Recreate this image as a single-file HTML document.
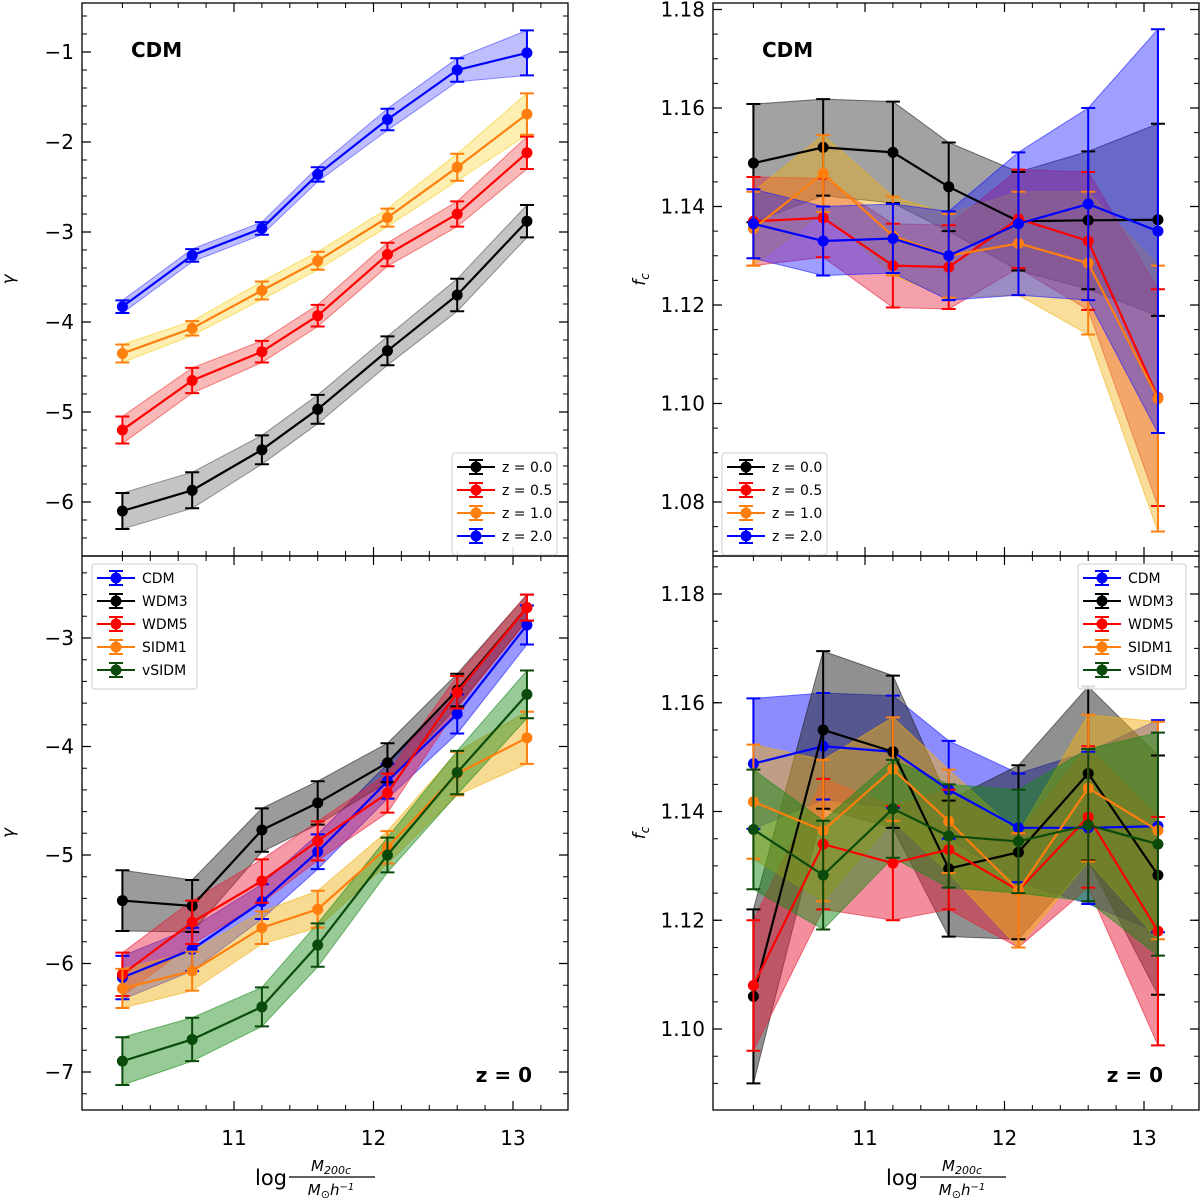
<!DOCTYPE html><html><head><meta charset="utf-8"><style>body{margin:0;background:#fff}svg text{font-family:"DejaVu Sans","Liberation Sans",sans-serif}</style></head><body>
<svg id="s" width="1200" height="1198" xmlns="http://www.w3.org/2000/svg"></svg>
<script>
const S=document.getElementById('s');let h='';
const X=[10.2,10.7,11.2,11.6,12.1,12.6,13.1];
function px(m,x0){return x0+152+(m-11)*139.5;}
const C={k:'#000',r:'#f00',o:'#ff7f0e',b:'#00f',g:'#0a4a0a'};
const F1={k:'#555',r:'#e33',o:'#f5d020',b:'#44f',g:'#2a2'};
const F2={k:'#222',r:'#e8203a',o:'#f0b010',b:'#1a1aff',g:'#1a8a1a'};
function panel(x0,y0,y1,yf,series,ticks,minor,ylab,alpha,F){
 const x1=x0+486;
 h+=`<rect x="${x0}" y="${y0}" width="486" height="${y1-y0}" fill="none" stroke="#000" stroke-width="1.3"/>`;
 h+=`<clipPath id="c${x0}${y0}"><rect x="${x0}" y="${y0}" width="486" height="${y1-y0}"/></clipPath><g clip-path="url(#c${x0}${y0})">`;
 for(const s of series){const [c,v,e]=s;
  let up=X.map((m,i)=>px(m,x0)+','+yf(v[i]+e[i])),dn=X.map((m,i)=>px(m,x0)+','+yf(v[i]-e[i])).reverse();
  h+=`<polygon points="${up.concat(dn).join(' ')}" fill="${F[c]}" fill-opacity="${alpha}" stroke="${F[c]}" stroke-opacity="0.6"/>`;}
 for(const s of series){const [c,v,e]=s;
  h+=`<polyline points="${X.map((m,i)=>px(m,x0)+','+yf(v[i])).join(' ')}" fill="none" stroke="${C[c]}" stroke-width="2.2"/>`;
  X.forEach((m,i)=>{const x=px(m,x0),a=yf(v[i]+e[i]),b=yf(v[i]-e[i]);
   h+=`<path d="M${x},${a}V${b}M${x-7},${a}h14M${x-7},${b}h14" stroke="${C[c]}" stroke-width="2"/><circle cx="${x}" cy="${yf(v[i])}" r="5.5" fill="${C[c]}"/>`;});}
 h+='</g>';
 [11,12,13].forEach(m=>{const x=px(m,x0);h+=`<path d="M${x},${y1}v-9M${x},${y0}v9" stroke="#000" stroke-width="1.2"/>`;});
 for(let m=10.2;m<13.5;m+=0.2){const x=px(m,x0);if(x>x0&&x<x1)h+=`<path d="M${x},${y1}v-5M${x},${y0}v5" stroke="#000"/>`;}
 ticks.forEach(([v,l])=>{const y=yf(v);h+=`<path d="M${x0},${y}h9M${x1},${y}h-9" stroke="#000" stroke-width="1.2"/>`;if(l)h+=`<text x="${x0-8}" y="${y+7}" font-size="20" text-anchor="end">${l}</text>`;});
 minor.forEach(v=>{const y=yf(v);if(y>y0&&y<y1)h+=`<path d="M${x0},${y}h5M${x1},${y}h-5" stroke="#000"/>`;});
 h+=`<text transform="translate(${x0-68},${(y0+y1)/2}) rotate(-90)" font-size="17" text-anchor="middle" font-style="italic">${ylab}</text>`;
}
function legend(x,y,w,items){h+=`<rect x="${x}" y="${y}" width="${w}" height="${items.length*23+10}" rx="3" fill="#fff" fill-opacity="0.85" stroke="#ccc"/>`;
 items.forEach(([c,t],i)=>{const yy=y+14+i*23;h+=`<path d="M${x+5},${yy}h38M${x+24},${yy-7}v14M${x+17},${yy-7}h14M${x+17},${yy+7}h14" stroke="${C[c]}" stroke-width="2"/><circle cx="${x+24}" cy="${yy}" r="5.5" fill="${C[c]}"/><text x="${x+50}" y="${yy+5}" font-size="14">${t}</text>`;});}
const m1=(a,b,s)=>{let r=[];for(let v=a;v<=b+1e-9;v+=s)r.push(v);return r;};
const ytl=v=>52+(-1-v)*90;
panel(82,3,556,ytl,[
['k',[-6.1,-5.87,-5.42,-4.97,-4.32,-3.7,-2.88],[.2,.2,.16,.16,.16,.18,.18]],
['r',[-5.2,-4.65,-4.33,-3.93,-3.25,-2.8,-2.12],[.15,.14,.12,.12,.13,.14,.18]],
['o',[-4.35,-4.07,-3.65,-3.32,-2.84,-2.28,-1.69],[.1,.08,.1,.1,.1,.15,.23]],
['b',[-3.83,-3.26,-2.96,-2.36,-1.75,-1.2,-1.01],[.07,.07,.07,.08,.12,.13,.25]]],
[[-1,'−1'],[-2,'−2'],[-3,'−3'],[-4,'−4'],[-5,'−5'],[-6,'−6']],m1(-6.6,-0.6,0.2),'γ',0.35,F1);
h+=`<text x="131" y="57" font-size="20" font-weight="bold">CDM</text>`;
legend(452,453,105,[['k','z = 0.0'],['r','z = 0.5'],['o','z = 1.0'],['b','z = 2.0']]);
const ytr=v=>108+(1.16-v)*4925;
panel(713,3,556,ytr,[
['k',[1.1488,1.152,1.151,1.144,1.137,1.1372,1.1373],[.012,.0098,.0103,.009,.01,.014,.0195]],
['r',[1.137,1.1377,1.128,1.1277,1.1375,1.133,1.1012],[.009,.008,.0085,.0085,.01,.014,.022]],
['o',[1.1355,1.1467,1.134,1.13,1.1325,1.1285,1.101],[.0075,.0078,.008,.0085,.0105,.0145,.027]],
['b',[1.1365,1.133,1.1335,1.13,1.1365,1.1405,1.135],[.007,.007,.007,.009,.0145,.0195,.041]]],
[[1.18,'1.18'],[1.16,'1.16'],[1.14,'1.14'],[1.12,'1.12'],[1.10,'1.10'],[1.08,'1.08']],m1(1.07,1.19,0.005),'f<tspan font-size="12" dy="4">c</tspan>',0.42,F2);
h+=`<text x="762" y="57" font-size="20" font-weight="bold">CDM</text>`;
legend(722,453,105,[['k','z = 0.0'],['r','z = 0.5'],['o','z = 1.0'],['b','z = 2.0']]);
const ybl=v=>638+(-3-v)*108.5;
panel(82,556,1110,ybl,[
['b',[-6.13,-5.87,-5.43,-4.97,-4.32,-3.7,-2.88],[.2,.2,.16,.16,.16,.18,.18]],
['k',[-5.42,-5.47,-4.77,-4.52,-4.15,-3.48,-2.72],[.28,.24,.2,.2,.18,.15,.12]],
['r',[-6.1,-5.62,-5.24,-4.87,-4.43,-3.5,-2.72],[.2,.2,.2,.18,.18,.15,.12]],
['o',[-6.23,-6.07,-5.67,-5.5,-4.93,-4.25,-3.92],[.18,.18,.15,.17,.15,.2,.24]],
['g',[-6.9,-6.7,-6.4,-5.83,-5.0,-4.24,-3.52],[.22,.2,.18,.2,.16,.2,.22]]],
[[-3,'−3'],[-4,'−4'],[-5,'−5'],[-6,'−6'],[-7,'−7']],m1(-7.4,-2.4,0.2),'γ',0.45,F2);
h+=`<text x="532" y="1082" font-size="20" font-weight="bold" text-anchor="end">z = 0</text>`;
legend(92,564,105,[['b','CDM'],['k','WDM3'],['r','WDM5'],['o','SIDM1'],['g','vSIDM']]);
const ybr=v=>594+(1.18-v)*5437.5;
panel(713,556,1110,ybr,[
['b',[1.1488,1.152,1.151,1.144,1.137,1.137,1.1373],[.012,.0098,.0103,.009,.01,.014,.0195]],
['k',[1.106,1.155,1.151,1.1295,1.1325,1.147,1.1283],[.016,.0145,.014,.0125,.016,.016,.022]],
['r',[1.108,1.134,1.1305,1.133,1.1255,1.139,1.118],[.012,.012,.0105,.011,.0105,.013,.021]],
['o',[1.1418,1.1365,1.1478,1.1382,1.1255,1.1443,1.1365],[.0105,.013,.0095,.0095,.0105,.0135,.02]],
['g',[1.1367,1.1283,1.1405,1.1355,1.1345,1.1375,1.134],[.011,.01,.009,.0095,.0095,.014,.0205]]],
[[1.18,'1.18'],[1.16,'1.16'],[1.14,'1.14'],[1.12,'1.12'],[1.10,'1.10']],m1(1.085,1.19,0.005),'f<tspan font-size="12" dy="4">c</tspan>',0.5,F2);
h+=`<text x="1163" y="1082" font-size="20" font-weight="bold" text-anchor="end">z = 0</text>`;
legend(1078,564,108,[['b','CDM'],['k','WDM3'],['r','WDM5'],['o','SIDM1'],['g','vSIDM']]);
[82,713].forEach(x0=>{[11,12,13].forEach(m=>{h+=`<text x="${px(m,x0)}" y="1145" font-size="20" text-anchor="middle">${m}</text>`;});
 const cx=x0+243;h+=`<text x="${cx-38}" y="1185" font-size="21" text-anchor="end">log</text><text x="${cx+6}" y="1171" font-size="15" text-anchor="middle" font-style="italic">M<tspan font-size="11" dy="3">200c</tspan></text><path d="M${cx-36},1177h86" stroke="#000" stroke-width="1.2"/><text x="${cx+6}" y="1195" font-size="15" text-anchor="middle" font-style="italic">M<tspan font-size="11" dy="3">⊙</tspan><tspan dy="-3">h</tspan><tspan font-size="10" dy="-5">−1</tspan></text>`;});
S.innerHTML=h;
</script></body></html>
